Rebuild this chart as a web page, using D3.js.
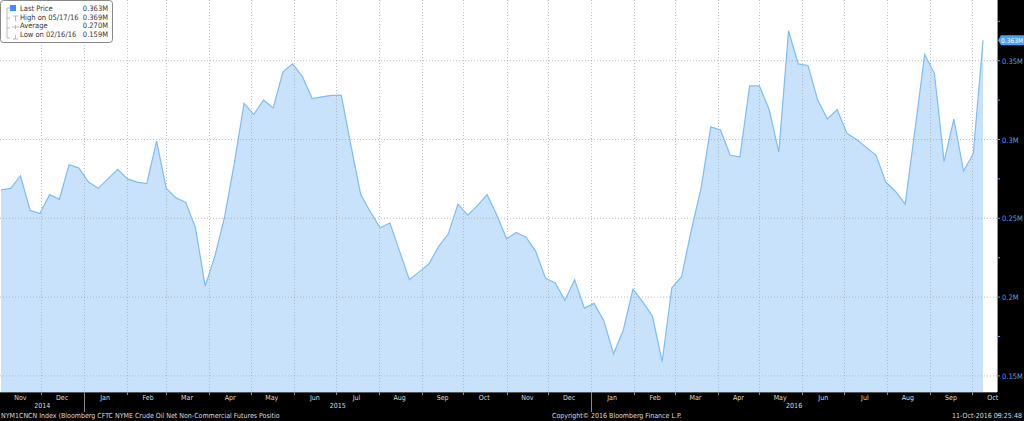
<!DOCTYPE html>
<html><head><meta charset="utf-8">
<script src="https://cdn.jsdelivr.net/npm/d3@7"></script>
<style>html,body{margin:0;padding:0;background:#000;overflow:hidden}svg{display:block}text{font-family:"DejaVu Sans Condensed","DejaVu Sans",sans-serif}</style>
</head><body><svg id="c" width="1024" height="421"></svg>
<script>
const startDate = "2014-10-28";
const values = [0.268,0.269,0.277,0.255,0.253,0.265,0.262,0.284,0.282,0.273,
0.269,0.275,0.281,0.275,0.273,0.272,0.299,0.269,0.263,0.260,
0.244,0.207,0.226,0.251,0.285,0.323,0.316,0.325,0.320,0.343,
0.348,0.340,0.326,0.327,0.328,0.328,0.296,0.265,0.254,0.244,
0.247,0.229,0.211,0.216,0.221,0.232,0.240,0.259,0.252,0.258,
0.265,0.252,0.237,0.241,0.238,0.229,0.212,0.209,0.198,0.211,
0.193,0.196,0.185,0.164,0.179,0.205,0.197,0.188,0.159,0.206,
0.213,0.2425,0.269,0.308,0.306,0.290,0.289,0.334,0.334,0.319,
0.292,0.369,0.348,0.347,0.325,0.313,0.319,0.304,0.300,0.295,
0.290,0.273,0.267,0.259,0.306,0.354,0.342,0.286,0.313,0.280,
0.291,0.363];
const yTicks = [0.15,0.2,0.25,0.3,0.35];
const yTickLabels = ["0.15M","0.2M","0.25M","0.3M","0.35M"];
const legendLabels = ["Last Price","High on 05/17/16","Average","Low on 02/16/16"];
const legendValues = ["0.363M","0.369M","0.270M","0.159M"];
const footerLeft = "NYM1CNCN Index (Bloomberg CFTC NYME Crude Oil Net Non-Commercial Futures Positio";
const footerMid = "Copyright\u00a9 2016 Bloomberg Finance L.P.";
const footerRight = "11-Oct-2016 09:25:48";

const parse = d3.timeParse("%Y-%m-%d");
const t0 = parse(startDate);
const data = values.map((v,i)=>({d:d3.timeDay.offset(t0,7*i),v}));
const svg = d3.select("#c");
const W=997, H=392;
const x = d3.scaleTime().domain([data[0].d,data[data.length-1].d]).range([1,983]);
// axis scale (calendar axis drawn a few days ahead of the weekly data stamps)
const xa = d3.scaleTime().domain(x.domain()).range([1-7,983-7]);
const y = d3.scaleLinear().domain([0.15,0.35]).range([375.9,60.7]);
const blue="#4aa3f0";

svg.append("rect").attr("width",W).attr("height",H).attr("fill","#fff");
const area = d3.area().x(d=>x(d.d)).y0(H).y1(d=>y(d.v));
const line = d3.line().x(d=>x(d.d)).y(d=>y(d.v));
svg.append("path").datum(data).attr("d",area).attr("fill","#c9e2fb");
const months = d3.timeMonth.range(d3.timeMonth.ceil(xa.invert(0)), xa.invert(W));
svg.append("g").selectAll("line").data(months).join("line")
 .attr("x1",d=>Math.round(xa(d))+0.5).attr("x2",d=>Math.round(xa(d))+0.5).attr("y1",0).attr("y2",H)
 .attr("stroke","#9aa0a6").attr("stroke-width",0.8).attr("stroke-dasharray","1,2").attr("opacity",0.8);
svg.append("g").selectAll("line").data(yTicks).join("line")
 .attr("x1",0).attr("x2",W).attr("y1",d=>y(d)).attr("y2",d=>y(d))
 .attr("stroke","#9aa0a6").attr("stroke-width",0.8).attr("stroke-dasharray","1,2").attr("opacity",0.8);
svg.append("path").datum(data).attr("d",line).attr("fill","none").attr("stroke","#7dbcf7").attr("stroke-width",1.2);

const ra = svg.append("g");
ra.append("line").attr("x1",W+0.5).attr("x2",W+0.5).attr("y1",0).attr("y2",H).attr("stroke",blue);
const minor = d3.range(0.125,0.38,0.025);
ra.selectAll(".mt").data(minor).join("line").attr("x1",W).attr("x2",W+3)
 .attr("y1",d=>y(d)).attr("y2",d=>y(d)).attr("stroke",blue);
ra.selectAll(".tl").data(yTicks).join("text").attr("x",W+5).attr("y",d=>y(d)+3)
 .attr("fill",blue).attr("font-size",7.5).text((d,i)=>yTickLabels[i]);
const last = data[data.length-1];
const ly=y(last.v);
ra.append("path").attr("d",`M${W+1},${ly} L${W+4},${ly-5} L1024,${ly-5} L1024,${ly+5} L${W+4},${ly+5} Z`).attr("fill",blue);
ra.append("text").attr("x",W+4).attr("y",ly+2.5).attr("fill","#fff").attr("font-size",6.5)
 .attr("textLength",22).attr("lengthAdjust","spacingAndGlyphs").text(legendValues[0]);

svg.append("line").attr("x1",0).attr("x2",W).attr("y1",H+0.5).attr("y2",H+0.5).attr("stroke","#555");
const mids = d3.timeMonth.range(d3.timeMonth.floor(xa.invert(0)), xa.invert(W+20)).map(m=>d3.timeDay.offset(m,15)).filter(d=>xa(d)>5&&xa(d)<W+4);
svg.append("g").selectAll("text").data(mids).join("text").attr("x",d=>xa(d)).attr("y",H+8)
 .attr("text-anchor","middle").attr("fill","#ddd").attr("font-size",7).text(d3.timeFormat("%b"));
svg.append("g").selectAll("line").data(months).join("line").attr("x1",d=>Math.round(xa(d))+0.5).attr("x2",d=>Math.round(xa(d))+0.5)
 .attr("y1",H).attr("y2",d=>d.getMonth()===0?H+20:H+3).attr("stroke","#888");
const years=[2014,2015,2016];
svg.append("g").selectAll("text").data(years).join("text")
 .attr("x",yr=>(Math.max(0,xa(new Date(yr,0,1)))+Math.min(W,xa(new Date(yr+1,0,1))))/2).attr("y",H+16)
 .attr("text-anchor","middle").attr("fill","#ddd").attr("font-size",7).text(d=>d);
svg.append("text").attr("x",1).attr("y",418).attr("fill","#ddd").attr("font-size",7).text(footerLeft);
svg.append("text").attr("x",552).attr("y",418).attr("fill","#ddd").attr("font-size",7).text(footerMid);
svg.append("text").attr("x",1022).attr("y",418).attr("text-anchor","end").attr("fill","#ddd").attr("font-size",7).text(footerRight);

const lg=svg.append("g");
lg.append("rect").attr("x",0.5).attr("y",0.5).attr("width",112).attr("height",42).attr("rx",3)
 .attr("fill","#fff").attr("fill-opacity",0.9).attr("stroke","#888");
lg.append("rect").attr("x",10).attr("y",5).attr("width",6).attr("height",6).attr("fill","#3d8ff5");
lg.append("path").attr("d","M7,8 H10 M7,8 V38 M7,18 H10 M7,28 H10 M7,38 H10 M13,16 H18 M15.5,16 V21 M12,27 H19 M15.5,25 V29 M13,39 H18 M15.5,35 V39")
 .attr("stroke","#aaa").attr("fill","none").attr("stroke-width",0.8);
lg.selectAll(".l").data(legendLabels).join("text").attr("x",20).attr("y",(d,i)=>11+i*8.7)
 .attr("font-size",7.5).attr("fill","#333").text(d=>d);
lg.selectAll(".v").data(legendValues).join("text").attr("x",108).attr("y",(d,i)=>11+i*8.7)
 .attr("text-anchor","end").attr("font-size",7.5).attr("fill","#333").text(d=>d);
</script></body></html>
